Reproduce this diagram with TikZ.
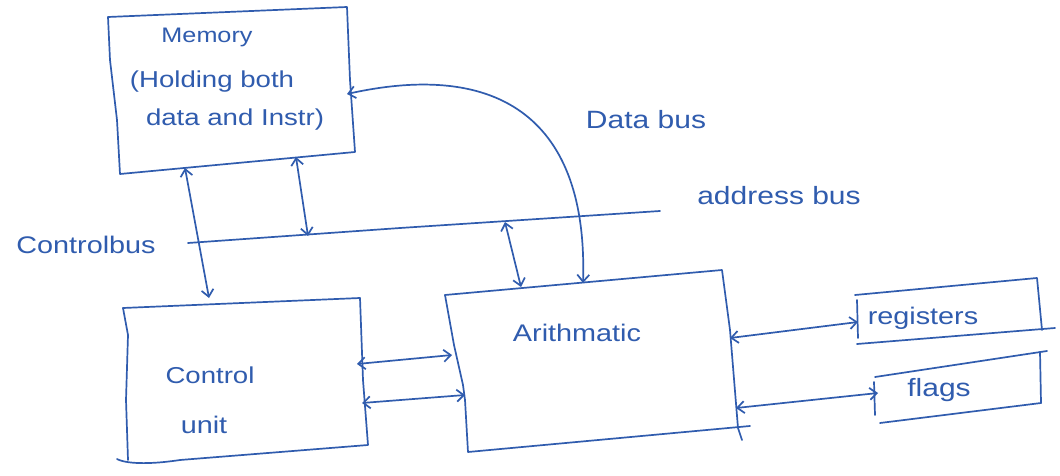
\documentclass[tikz,border=0pt]{standalone}
\usepackage{fontspec}
\setmainfont[FakeStretch=1.2]{Liberation Sans}
\usetikzlibrary{arrows.meta}
\definecolor{pen}{RGB}{48,92,174}
\begin{document}
\begin{tikzpicture}[x=1pt,y=-1pt,
  ink/.style={draw=pen,line width=1.7pt,line cap=round,line join=round},
  biarrow/.style={ink,{Straight Barb[length=7pt,width=12pt]}-{Straight Barb[length=7pt,width=12pt]}},
  lbl/.style={text=pen,inner sep=0pt},
  fs/.style={font=\fontsize{#1}{#1}\selectfont}]
\useasboundingbox (0,0) rectangle (1060,476);
\fill[white] (0,0) rectangle (1060,476);

% Memory box
\draw[ink] (108,17) -- (347,7) -- (350,80) -- (355,152) -- (120,174) -- (117,120) -- (110,60) -- cycle;
\node[lbl,fs=21] (mem1) at (207,37) {Memory};
\node[lbl,fs=23] (mem2) at (212,82) {(Holding both};
\node[lbl,fs=23] (mem3) at (235,120) {data and Instr)};

% Control unit box
\draw[ink] (123,308) -- (360,298) -- (363,380) -- (368,445) -- (180,460) .. controls (140,466) and (122,462) .. (117,459);
\draw[ink] (123,308) -- (128,335) -- (126,400) -- (128,460);
\node[lbl,fs=23] (cu1) at (210,375) {Control};
\node[lbl,fs=24] (cu2) at (204,425) {unit};

% Arithmetic box
\draw[ink] (445,295) -- (722,270) -- (730,330) -- (738,428) -- (742,440);
\draw[ink] (445,295) -- (454,345) -- (463,385) -- (465,400) -- (468,452) -- (750,426);
\node[lbl,fs=24] (alu) at (577,333) {Arithmatic};

% registers box
\draw[ink] (855,295) -- (1037,278) -- (1042,330);
\draw[ink] (857,344) -- (1055,328);
\draw[ink] (857,300) -- (858,338);
\node[lbl,fs=24] (reg) at (923,318) {registers};

% flags box
\draw[ink] (875,377) -- (1047,351);
\draw[ink] (1040,352) -- (1041,403);
\draw[ink] (880,423) -- (1041,403);
\draw[ink] (874,382) -- (875,415);
\node[lbl,fs=25] (flg) at (939,390) {flags};

% address bus
\coordinate (ab0) at (188,243);
\coordinate (ab1) at (660,211);
\draw[ink] (ab0) -- (400,228) -- (ab1);
\node[lbl,fs=25] (abl) at (779,196) {address bus};
\node[lbl,fs=24] (cbl) at (86,245) {Controlbus};
\node[lbl,fs=25] (dbl) at (646,120) {Data bus};

% connector end points
\coordinate (memB1) at (185,168);
\coordinate (cuT) at (209,298);
\coordinate (memB2) at (296,157);
\coordinate (abA) at (308,236);
\coordinate (abB) at (505,222);
\coordinate (aluT1) at (521,287);
\coordinate (memR) at (347,94);
\coordinate (aluT2) at (583,283);
\coordinate (cuR1) at (357,364);
\coordinate (aluL1) at (452,355);
\coordinate (cuR2) at (362,403);
\coordinate (aluL2) at (465,395);
\coordinate (aluR1) at (730,338);
\coordinate (regL) at (858,322);
\coordinate (aluR2) at (736,408);
\coordinate (flgL) at (878,393);

\draw[biarrow] (memB1) -- (cuT);
\draw[biarrow] (memB2) -- (abA);
\draw[biarrow] (abB) -- (aluT1);
\draw[biarrow] (memR) .. controls (500,60) and (588,120) .. (aluT2);
\draw[biarrow] (cuR1) -- (aluL1);
\draw[biarrow] (cuR2) -- (aluL2);
\draw[biarrow] (aluR1) -- (regL);
\draw[biarrow] (aluR2) -- (flgL);
\end{tikzpicture}
\end{document}
